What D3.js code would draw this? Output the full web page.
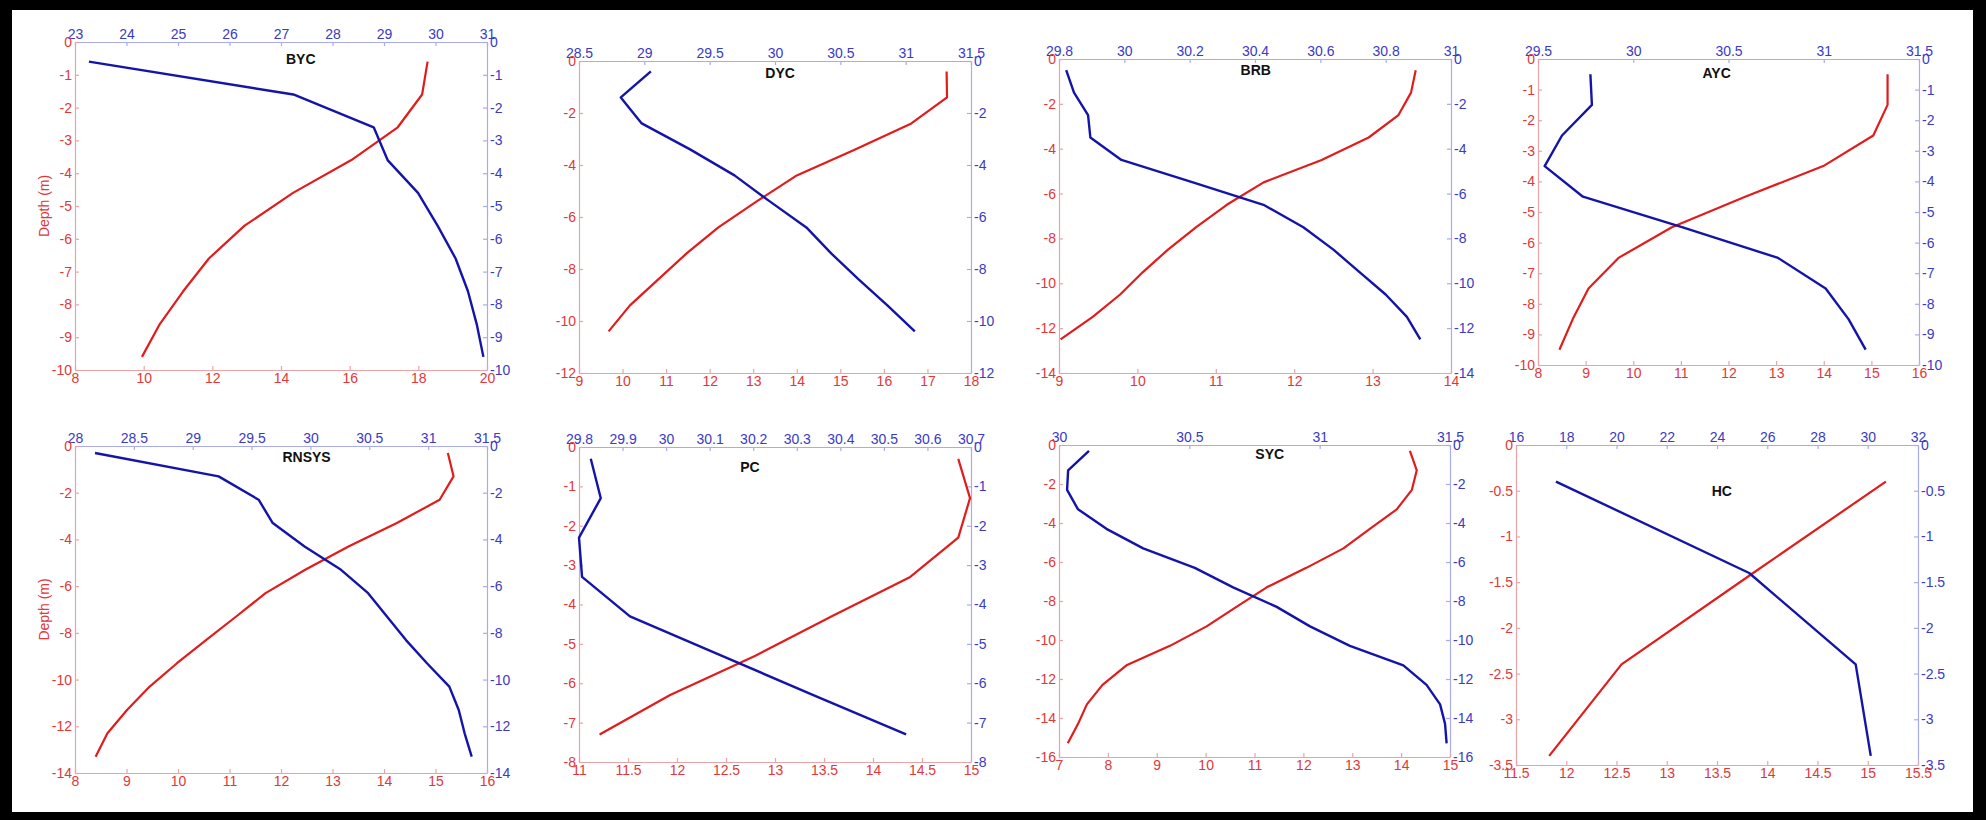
<!DOCTYPE html>
<html>
<head>
<meta charset="utf-8">
<script src="https://cdn.jsdelivr.net/npm/d3@7"></script>
<style>
  html, body { margin: 0; padding: 0; background: #fff; }
  text { font-family: "Liberation Sans", Arial, sans-serif; }
</style>
</head>
<body>
<script>
// station names
var titles = ['BYC', 'DYC', 'BRB', 'AYC', 'RNSYS', 'PC', 'SYC', 'HC'];

// depth (m), temperature (red, bottom axis), salinity (blue, top axis)
var bycDepth = [-0.6, -1.6, -2.6, -3.6, -4.6, -5.6, -6.6, -7.6, -8.6, -9.6];
var bycTemp = [18.27, 18.11, 17.40, 16.05, 14.35, 12.94, 11.90, 11.15, 10.47, 9.95];
var bycSal = [23.27, 27.24, 28.80, 29.07, 29.66, 30.04, 30.39, 30.63, 30.80, 30.93];

var dycDepth = [-0.4, -1.4, -2.4, -3.4, -4.4, -5.4, -6.4, -7.4, -8.4, -9.4, -10.4];
var dycTemp = [17.44, 17.45, 16.63, 15.34, 14.0, 13.08, 12.2, 11.47, 10.82, 10.17, 9.68];
var dycSal = [29.05, 28.82, 28.98, 29.35, 29.69, 29.96, 30.24, 30.43, 30.64, 30.86, 31.07];

var brbDepth = [-0.5, -1.5, -2.5, -3.5, -4.5, -5.5, -6.5, -7.5, -8.5, -9.5, -10.5, -11.5, -12.5];
var brbTemp = [13.55, 13.49, 13.33, 12.95, 12.35, 11.61, 11.14, 10.75, 10.39, 10.07, 9.78, 9.43, 9.02];
var brbSal = [29.822, 29.846, 29.889, 29.896, 29.991, 30.21, 30.426, 30.548, 30.64, 30.72, 30.80, 30.865, 30.906];

var aycDepth = [-0.5, -1.5, -2.5, -3.5, -4.5, -5.5, -6.5, -7.5, -8.5, -9.5];
var aycTemp = [15.34, 15.34, 15.04, 13.99, 12.35, 10.81, 9.69, 9.06, 8.73, 8.45];
var aycSal = [29.775, 29.783, 29.626, 29.535, 29.736, 30.26, 30.76, 31.01, 31.13, 31.22];

var rnsysDepth = [-0.3, -1.3, -2.3, -3.3, -4.3, -5.3, -6.3, -7.3, -8.3, -9.3, -10.3, -11.3, -12.3, -13.3];
var rnsysTemp = [15.24, 15.35, 15.08, 14.25, 13.31, 12.47, 11.70, 11.13, 10.55, 9.98, 9.45, 9.01, 8.63, 8.40];
var rnsysSal = [28.17, 29.22, 29.56, 29.68, 29.95, 30.26, 30.49, 30.65, 30.81, 30.99, 31.18, 31.26, 31.31, 31.37];

var pcDepth = [-0.3, -1.3, -2.3, -3.3, -4.3, -5.3, -6.3, -7.3];
var pcTemp = [14.87, 14.99, 14.87, 14.38, 13.58, 12.80, 11.93, 11.21];
var pcSal = [29.827, 29.85, 29.80, 29.807, 29.917, 30.127, 30.338, 30.551];

var sycDepth = [-0.3, -1.3, -2.3, -3.3, -4.3, -5.3, -6.3, -7.3, -8.3, -9.3, -10.3, -11.3, -12.3, -13.3, -14.3, -15.3];
var sycTemp = [14.18, 14.32, 14.22, 13.91, 13.36, 12.82, 12.06, 11.25, 10.63, 10.02, 9.27, 8.38, 7.89, 7.57, 7.39, 7.18];
var sycSal = [30.115, 30.035, 30.031, 30.073, 30.182, 30.323, 30.521, 30.668, 30.835, 30.963, 31.116, 31.321, 31.41, 31.462, 31.481, 31.487];

var hcDepth = [-0.4, -1.4, -2.4, -3.4];
var hcTemp = [15.18, 13.86, 12.55, 11.83];
var hcSal = [17.59, 25.28, 29.52, 30.12];

// tick labels: temperature (bottom), salinity (top), depth (left/right)
var bycTempTicks = [8, 10, 12, 14, 16, 18, 20];
var bycSalTicks = [23, 24, 25, 26, 27, 28, 29, 30, 31];
var bycDepthTicks = [0, -1, -2, -3, -4, -5, -6, -7, -8, -9, -10];

var dycTempTicks = [9, 10, 11, 12, 13, 14, 15, 16, 17, 18];
var dycSalTicks = [28.5, 29, 29.5, 30, 30.5, 31, 31.5];
var dycDepthTicks = [0, -2, -4, -6, -8, -10, -12];

var brbTempTicks = [9, 10, 11, 12, 13, 14];
var brbSalTicks = [29.8, 30, 30.2, 30.4, 30.6, 30.8, 31];
var brbDepthTicks = [0, -2, -4, -6, -8, -10, -12, -14];

var aycTempTicks = [8, 9, 10, 11, 12, 13, 14, 15, 16];
var aycSalTicks = [29.5, 30, 30.5, 31, 31.5];
var aycDepthTicks = [0, -1, -2, -3, -4, -5, -6, -7, -8, -9, -10];

var rnsysTempTicks = [8, 9, 10, 11, 12, 13, 14, 15, 16];
var rnsysSalTicks = [28, 28.5, 29, 29.5, 30, 30.5, 31, 31.5];
var rnsysDepthTicks = [0, -2, -4, -6, -8, -10, -12, -14];

var pcTempTicks = [11, 11.5, 12, 12.5, 13, 13.5, 14, 14.5, 15];
var pcSalTicks = [29.8, 29.9, 30, 30.1, 30.2, 30.3, 30.4, 30.5, 30.6, 30.7];
var pcDepthTicks = [0, -1, -2, -3, -4, -5, -6, -7, -8];

var sycTempTicks = [7, 8, 9, 10, 11, 12, 13, 14, 15];
var sycSalTicks = [30, 30.5, 31, 31.5];
var sycDepthTicks = [0, -2, -4, -6, -8, -10, -12, -14, -16];

var hcTempTicks = [11.5, 12, 12.5, 13, 13.5, 14, 14.5, 15, 15.5];
var hcSalTicks = [16, 18, 20, 22, 24, 26, 28, 30, 32];
var hcDepthTicks = [0, -0.5, -1, -1.5, -2, -2.5, -3, -3.5];

var panels = [
  { depth: bycDepth, temp: bycTemp, sal: bycSal, tT: bycTempTicks, sT: bycSalTicks, dT: bycDepthTicks },
  { depth: dycDepth, temp: dycTemp, sal: dycSal, tT: dycTempTicks, sT: dycSalTicks, dT: dycDepthTicks },
  { depth: brbDepth, temp: brbTemp, sal: brbSal, tT: brbTempTicks, sT: brbSalTicks, dT: brbDepthTicks },
  { depth: aycDepth, temp: aycTemp, sal: aycSal, tT: aycTempTicks, sT: aycSalTicks, dT: aycDepthTicks },
  { depth: rnsysDepth, temp: rnsysTemp, sal: rnsysSal, tT: rnsysTempTicks, sT: rnsysSalTicks, dT: rnsysDepthTicks },
  { depth: pcDepth, temp: pcTemp, sal: pcSal, tT: pcTempTicks, sT: pcSalTicks, dT: pcDepthTicks },
  { depth: sycDepth, temp: sycTemp, sal: sycSal, tT: sycTempTicks, sT: sycSalTicks, dT: sycDepthTicks },
  { depth: hcDepth, temp: hcTemp, sal: hcSal, tT: hcTempTicks, sT: hcSalTicks, dT: hcDepthTicks }
];

// plot boxes in page pixels, title placement
var layout = [
  { x0: 75, x1: 487, y0: 42, y1: 370, tx: 0.548, ty: 17, ylab: true },
  { x0: 579, x1: 971, y0: 61, y1: 373, tx: 0.513, ty: 12 },
  { x0: 1059, x1: 1451, y0: 59, y1: 373, tx: 0.502, ty: 11 },
  { x0: 1538, x1: 1919, y0: 59, y1: 365, tx: 0.469, ty: 14 },
  { x0: 75, x1: 487, y0: 446, y1: 773, tx: 0.562, ty: 11, ylab: true },
  { x0: 579, x1: 971, y0: 447, y1: 762, tx: 0.436, ty: 20 },
  { x0: 1059, x1: 1450, y0: 445, y1: 757, tx: 0.539, ty: 9 },
  { x0: 1516, x1: 1918, y0: 445, y1: 765, tx: 0.512, ty: 46 }
];

var W = 1986, H = 820;
var redLine = '#e01c1c', blueLine = '#1414a8';
var redText = '#e0383a', blueText = '#3a3ac4';
var redAxis = '#e8a4a6', blueAxis = '#a8acea';
var fontSize = 14;

var svg = d3.select('body').append('svg').attr('width', W).attr('height', H);
svg.append('rect').attr('width', W).attr('height', H).attr('fill', '#fff');

function styleAxis(g, lineCol, textCol) {
  g.selectAll('path').attr('stroke', lineCol).attr('stroke-width', 1.2);
  g.selectAll('line').attr('stroke', lineCol).attr('stroke-width', 1.2);
  g.selectAll('text').attr('fill', textCol).attr('font-size', fontSize)
    .attr('font-family', '"Liberation Sans", Arial, sans-serif');
}

panels.forEach(function (p, i) {
  var L = layout[i];
  var tDom = [p.tT[0], p.tT[p.tT.length - 1]];
  var sDom = [p.sT[0], p.sT[p.sT.length - 1]];
  var dDom = [p.dT[p.dT.length - 1], p.dT[0]];

  var x = d3.scaleLinear().domain(tDom).range([L.x0, L.x1]);
  var x2 = d3.scaleLinear().domain(sDom).range([L.x0, L.x1]);
  var y = d3.scaleLinear().domain(dDom).range([L.y1, L.y0]);

  var g = svg.append('g');
  var fmt = function (d) { return String(d); };

  // blue axes first so red sits on top at corners
  var gt = g.append('g').attr('transform', 'translate(0,' + L.y0 + ')')
    .call(d3.axisTop(x2).tickValues(p.sT).tickFormat(fmt).tickSizeInner(-4).tickSizeOuter(0).tickPadding(3));
  styleAxis(gt, blueAxis, blueText);

  var gr = g.append('g').attr('transform', 'translate(' + L.x1 + ',0)')
    .call(d3.axisRight(y).tickValues(p.dT).tickFormat(fmt).tickSizeInner(-4).tickSizeOuter(0).tickPadding(3));
  styleAxis(gr, blueAxis, blueText);

  var gb = g.append('g').attr('transform', 'translate(0,' + L.y1 + ')')
    .call(d3.axisBottom(x).tickValues(p.tT).tickFormat(fmt).tickSizeInner(-4).tickSizeOuter(0).tickPadding(3));
  styleAxis(gb, redAxis, redText);

  var gl = g.append('g').attr('transform', 'translate(' + L.x0 + ',0)')
    .call(d3.axisLeft(y).tickValues(p.dT).tickFormat(fmt).tickSizeInner(-4).tickSizeOuter(0).tickPadding(3));
  styleAxis(gl, redAxis, redText);

  var rows = p.depth.map(function (d, k) { return { d: d, t: p.temp[k], s: p.sal[k] }; });

  g.append('path').datum(rows)
    .attr('fill', 'none').attr('stroke', redLine).attr('stroke-width', 2.2)
    .attr('stroke-linejoin', 'round')
    .attr('d', d3.line().x(function (r) { return x(r.t); }).y(function (r) { return y(r.d); }));

  g.append('path').datum(rows)
    .attr('fill', 'none').attr('stroke', blueLine).attr('stroke-width', 2.4)
    .attr('stroke-linejoin', 'round')
    .attr('d', d3.line().x(function (r) { return x2(r.s); }).y(function (r) { return y(r.d); }));

  g.append('text')
    .attr('x', L.x0 + L.tx * (L.x1 - L.x0)).attr('y', L.y0 + L.ty)
    .attr('text-anchor', 'middle').attr('dy', '0.35em')
    .attr('font-size', 14).attr('font-weight', 'bold').attr('fill', '#111')
    .text(titles[i]);

  if (L.ylab) {
    g.append('text')
      .attr('transform', 'translate(' + (L.x0 - 31) + ',' + ((L.y0 + L.y1) / 2) + ') rotate(-90)')
      .attr('text-anchor', 'middle').attr('dy', '0.35em')
      .attr('font-size', 14).attr('fill', redText)
      .text('Depth (m)');
  }
});

// black frame round the figure
svg.append('rect').attr('x', 0).attr('y', 0).attr('width', 12).attr('height', H).attr('fill', '#000');
svg.append('rect').attr('x', 0).attr('y', 0).attr('width', W).attr('height', 10).attr('fill', '#000');
svg.append('rect').attr('x', 1973).attr('y', 0).attr('width', 13).attr('height', H).attr('fill', '#000');
svg.append('rect').attr('x', 0).attr('y', 812).attr('width', W).attr('height', 8).attr('fill', '#000');
</script>
</body>
</html>
